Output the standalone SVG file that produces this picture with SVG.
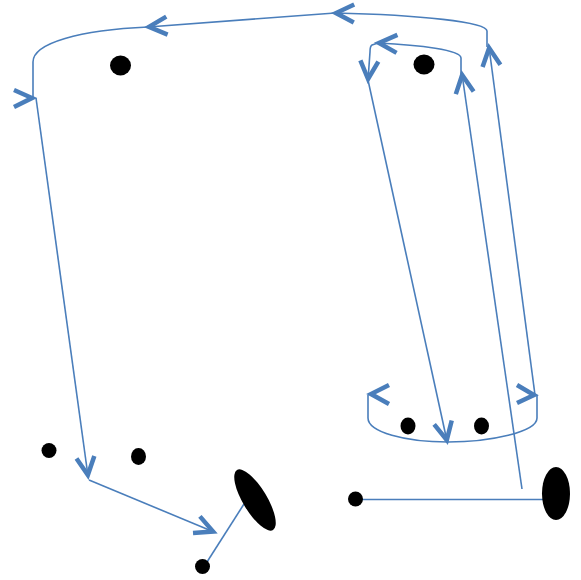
<svg xmlns="http://www.w3.org/2000/svg" width="581" height="580" viewBox="0 0 581 580">
<style>
.c{fill:none;stroke:#4a7ebb;stroke-width:1.6}
.h{fill:none;stroke:#4a7ebb;stroke-width:4.5;stroke-linejoin:miter}
.n{fill:#000}
</style>
<defs>
<marker id="a" markerUnits="userSpaceOnUse" markerWidth="40" markerHeight="40" viewBox="-30 -20 40 40" refX="0" refY="0" orient="auto" overflow="visible">
<path d="M -19 -9 L -1 0 L -19 9" fill="none" stroke="#4a7ebb" stroke-width="4.5"/>
</marker>
</defs>
<rect width="581" height="580" fill="#fff"/>
<g id="connectors">
<path class="c" d="M 535 395 L 489 47" marker-end="url(#a)"/>
<path class="c" d="M 487 47 L 487 31 C 487 22 420 15 335 13" marker-end="url(#a)"/>
<path class="c" d="M 335 13 L 148 27" marker-end="url(#a)"/>
<path class="c" d="M 148 27 C 80 30 33 43 33 62 L 33 98"/>
<path class="h" d="M 14 90 L 32 98 L 14 107"/>
<path class="c" d="M 36 98 L 88 476" marker-end="url(#a)"/>
<path class="c" d="M 89 480 L 214 532" marker-end="url(#a)"/>
<path class="c" d="M 522 489 L 462 74" marker-end="url(#a)"/>
<path class="c" d="M 461 74 L 461 58 C 461 50 420 45 378 43" marker-end="url(#a)"/>
<path class="c" d="M 378 43 L 372 45 Q 370 46 370 52 L 368 80" marker-end="url(#a)"/>
<path class="c" d="M 368 80 L 447 441" marker-end="url(#a)"/>
<path class="c" d="M 537 395 L 537 418 C 537 432 490 442 448 442 C 405 442 368 432 368 418 L 368 395"/>
<path class="h" d="M 517 385 L 534 395 L 517 403"/>
<path class="h" d="M 389 385 L 371 394 L 389 404"/>
<path class="c" d="M 355 499.5 L 545 499.5"/>
<path class="c" d="M 244 504 L 207 562"/>
</g>
<g id="n1"><ellipse class="n" cx="120.5" cy="65.5" rx="10.5" ry="10"/></g>
<g id="n2"><ellipse class="n" cx="424" cy="64.5" rx="10.5" ry="10"/></g>
<g id="n3"><ellipse class="n" cx="408" cy="426" rx="7.5" ry="8.5"/></g>
<g id="n4"><ellipse class="n" cx="481.5" cy="426" rx="7.5" ry="8.5"/></g>
<g id="n5"><ellipse class="n" cx="49" cy="450.5" rx="7.5" ry="7.5"/></g>
<g id="n6"><ellipse class="n" cx="138.5" cy="456.5" rx="7.5" ry="8.5"/></g>
<g id="n7"><ellipse class="n" cx="255" cy="500" rx="12" ry="35" transform="rotate(-31 255 500)"/></g>
<g id="n8"><ellipse class="n" cx="202.5" cy="566.5" rx="7.5" ry="7.5"/></g>
<g id="n9"><ellipse class="n" cx="355.5" cy="499" rx="7.5" ry="7.5"/></g>
<g id="n10"><ellipse class="n" cx="556" cy="493.5" rx="14" ry="26.5"/></g>
</svg>
